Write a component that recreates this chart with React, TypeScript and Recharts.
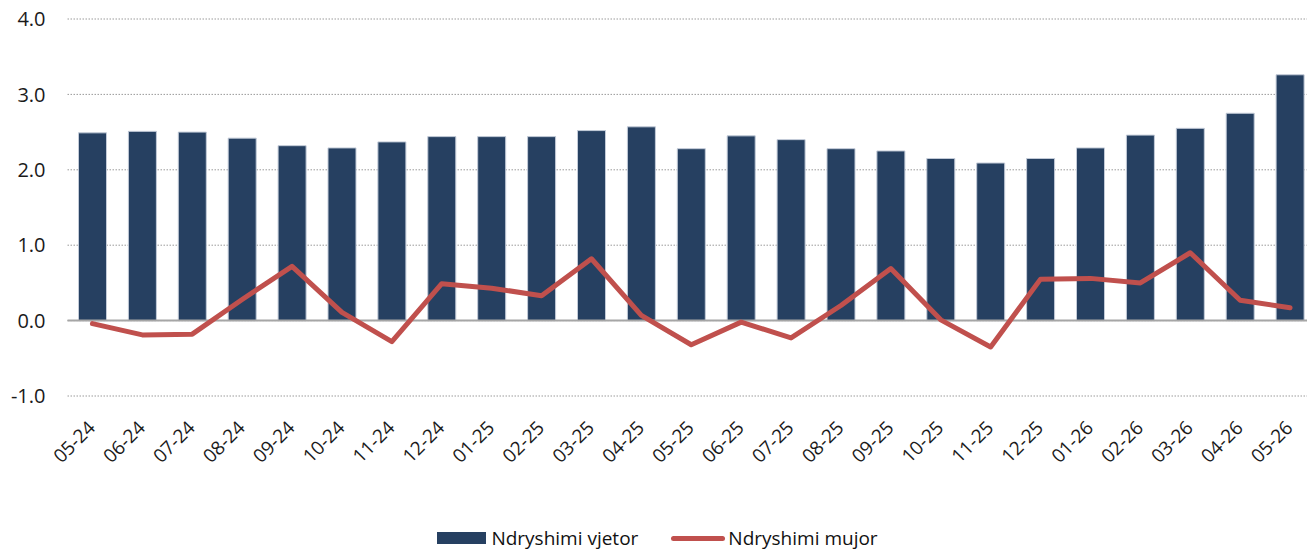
import React from 'react'
import {
  ComposedChart,
  Bar,
  Line,
  XAxis,
  YAxis,
  CartesianGrid,
  ReferenceLine,
  Legend,
} from 'recharts'

const MONTHS = [
  '05-24', '06-24', '07-24', '08-24', '09-24', '10-24', '11-24', '12-24',
  '01-25', '02-25', '03-25', '04-25', '05-25', '06-25', '07-25', '08-25',
  '09-25', '10-25', '11-25', '12-25', '01-26', '02-26', '03-26', '04-26', '05-26',
]

// annual change (bars)
const VJETOR = [
  2.49, 2.51, 2.5, 2.42, 2.32, 2.29, 2.37, 2.44,
  2.44, 2.44, 2.52, 2.57, 2.28, 2.45, 2.4, 2.28,
  2.25, 2.15, 2.09, 2.15, 2.29, 2.46, 2.55, 2.75, 3.26,
]

// monthly change (line)
const MUJOR = [
  -0.04, -0.19, -0.18, 0.28, 0.72, 0.11, -0.28, 0.49,
  0.43, 0.33, 0.82, 0.07, -0.32, -0.02, -0.23, 0.2,
  0.69, 0.01, -0.35, 0.55, 0.56, 0.5, 0.9, 0.27, 0.17,
]

const Y_TICKS = [-1, 0, 1, 2, 3, 4]

const BAR_COLOR = '#264061'
const LINE_COLOR = '#C0504D'
const FONT = '"Open Sans", "Noto Sans", sans-serif'

const data = MONTHS.map((m, i) => ({
  month: m,
  vjetor: VJETOR[i],
  mujor: MUJOR[i],
}))

const MonthTick = (props: any) => {
  const { x, y, payload } = props
  return (
    <g transform={`translate(${x + 4},${y + 33})`}>
      <text
        transform="rotate(-45)"
        textAnchor="end"
        fontSize={19}
        fontFamily={FONT}
        fill="#1a1a1a"
      >
        {payload.value}
      </text>
    </g>
  )
}

const LegendContent = () => (
  <div
    style={{
      height: 30,
      paddingTop: 6,
      boxSizing: 'border-box',
      display: 'flex',
      justifyContent: 'center',
      alignItems: 'center',
      fontFamily: FONT,
      fontSize: 19,
      color: '#111',
    }}
  >
    <span style={{ display: 'inline-block', width: 49, height: 12, background: BAR_COLOR, marginRight: 5 }} />
    <span style={{ marginRight: 33 }}>Ndryshimi vjetor</span>
    <span
      style={{
        display: 'inline-block',
        width: 54,
        height: 5,
        borderRadius: 3,
        background: LINE_COLOR,
        marginRight: 3,
      }}
    />
    <span>Ndryshimi mujor</span>
  </div>
)

export default function App() {
  return (
    <div
      style={{
        position: 'absolute',
        left: 0,
        top: 0,
        width: 1307,
        height: 550,
        overflow: 'hidden',
        background: '#fff',
      }}
    >
      <ComposedChart
        width={1315}
        height={550}
        data={data}
        margin={{ top: 19, right: 0, left: 0, bottom: 0 }}
      >
        <CartesianGrid
          vertical={false}
          stroke="#9a9a9a"
          strokeDasharray="1.5 1.5"
        />
        <XAxis
          dataKey="month"
          height={124}
          axisLine={false}
          tickLine={false}
          tickSize={0}
          tickMargin={0}
          interval={0}
          tick={<MonthTick />}
        />
        <YAxis
          width={67.5}
          domain={[-1, 4]}
          ticks={Y_TICKS}
          axisLine={false}
          tickLine={false}
          tickSize={0}
          tickMargin={22}
          tickFormatter={(v: number) => v.toFixed(1)}
          tick={{ fontSize: 20, fontFamily: FONT, fill: '#1a1a1a' }}
        />
        <ReferenceLine y={0} stroke="#a6a6a6" strokeWidth={2} />
        <Bar
          dataKey="vjetor"
          fill={BAR_COLOR}
          stroke="#c3cbd8"
          strokeWidth={1}
          barSize={28}
          isAnimationActive={false}
        />
        <Line
          dataKey="mujor"
          type="linear"
          stroke={LINE_COLOR}
          strokeWidth={5}
          strokeLinecap="round"
          strokeLinejoin="round"
          dot={false}
          activeDot={false}
          isAnimationActive={false}
        />
        <Legend verticalAlign="bottom" height={30} content={<LegendContent />} />
      </ComposedChart>
    </div>
  )
}
